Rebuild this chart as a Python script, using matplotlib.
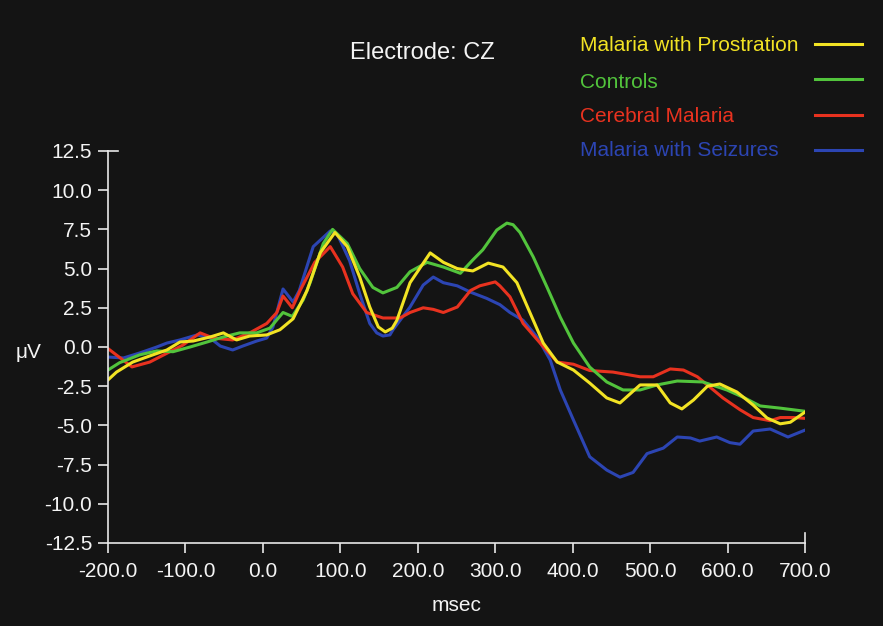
import matplotlib
matplotlib.use("Agg")
import matplotlib.pyplot as plt
from matplotlib.lines import Line2D

plt.rcParams['font.family'] = ['Liberation Sans', 'DejaVu Sans']

# Series (msec, microvolts)
labels = ["Malaria with Prostration", "Controls", "Cerebral Malaria", "Malaria with Seizures"]
colors = ["#f2e324", "#52c43c", "#e8321f", "#2c45b3"]

prost_x = [-200, -189, -168, -146, -124, -107, -90, -68, -51, -34, -17, 5, 22, 39, 57, 74, 93, 109,
           125, 138, 149, 158, 167, 173, 190, 216, 233, 251, 271, 291, 310, 328, 345, 362, 380, 401,
           422, 444, 461, 487, 509, 526, 541, 556, 574, 590, 612, 633, 651, 668, 681, 700]
prost_y = [-2.1, -1.6, -0.96, -0.57, -0.19, 0.32, 0.38, 0.64, 0.9, 0.45, 0.7, 0.77, 1.1, 1.8, 3.6,
           6.0, 7.3, 6.4, 4.46, 2.55, 1.28, 0.96, 1.2, 1.7, 4.1, 6.0, 5.4, 5.0, 4.85, 5.35, 5.1, 4.1,
           2.17, 0.25, -0.96, -1.47, -2.3, -3.25, -3.57, -2.42, -2.42, -3.57, -3.95, -3.38, -2.5,
           -2.36, -2.87, -3.7, -4.53, -4.9, -4.8, -4.15]

ctrl_x = [-200, -185, -159, -137, -116, -94, -72, -51, -30, -8, 9, 26, 38, 52, 61, 78, 90, 109, 125,
          142, 155, 173, 190, 212, 233, 255, 271, 284, 302, 315, 323, 332, 349, 367, 384, 401, 422,
          444, 465, 487, 509, 535, 568, 599, 620, 642, 668, 700]
ctrl_y = [-1.47, -1.0, -0.5, -0.25, -0.3, 0.0, 0.32, 0.64, 0.9, 0.9, 1.2, 2.2, 1.95, 3.0, 4.1, 6.6,
          7.5, 6.6, 5.0, 3.8, 3.45, 3.8, 4.8, 5.4, 5.1, 4.7, 5.55, 6.2, 7.46, 7.9, 7.8, 7.3, 5.75,
          3.8, 1.9, 0.25, -1.28, -2.23, -2.74, -2.74, -2.42, -2.17, -2.23, -2.74, -3.2, -3.76,
          -3.9, -4.1]

cereb_x = [-200, -169, -146, -124, -103, -81, -64, -39, -17, 5, 18, 26, 38, 48, 67, 87, 103, 116,
           134, 155, 177, 190, 207, 220, 233, 251, 268, 280, 300, 306, 319, 336, 358, 380, 401, 422,
           452, 487, 504, 526, 543, 561, 577, 594, 616, 633, 655, 668, 685, 700]
cereb_y = [-0.1, -1.27, -0.96, -0.4, 0.13, 0.9, 0.57, 0.45, 0.9, 1.5, 2.2, 3.25, 2.5, 3.6, 5.4, 6.4,
           5.1, 3.4, 2.2, 1.85, 1.85, 2.2, 2.5, 2.4, 2.2, 2.55, 3.6, 3.9, 4.15, 3.9, 3.2, 1.5, 0.25,
           -0.96, -1.1, -1.5, -1.6, -1.9, -1.9, -1.4, -1.47, -1.9, -2.55, -3.25, -4.0, -4.5, -4.7,
           -4.5, -4.5, -4.55]

seiz_x = [-200, -180, -159, -137, -124, -107, -85, -68, -55, -39, -26, -8, 5, 13, 26, 39, 47, 65, 87,
          96, 112, 125, 138, 147, 155, 164, 168, 190, 207, 220, 233, 251, 268, 289, 306, 319, 336,
          354, 371, 384, 401, 422, 444, 461, 478, 496, 517, 535, 552, 564, 586, 603, 616, 633, 655,
          678, 700]
seiz_y = [-0.64, -0.7, -0.38, 0.0, 0.25, 0.45, 0.77, 0.57, 0.06, -0.19, 0.06, 0.38, 0.57, 1.28, 3.7,
          2.87, 3.6, 6.4, 7.4, 7.2, 5.5, 3.4, 1.5, 0.9, 0.7, 0.77, 1.1, 2.55, 3.95, 4.46, 4.1, 3.9,
          3.5, 3.1, 2.7, 2.2, 1.7, 0.64, -0.83, -2.74, -4.66, -7.0, -7.85, -8.3, -8.0, -6.8, -6.45,
          -5.74, -5.8, -6.0, -5.74, -6.1, -6.2, -5.36, -5.23, -5.74, -5.3]

x_ticks = [-200, -100, 0, 100, 200, 300, 400, 500, 600, 700]
y_ticks = [-12.5, -10, -7.5, -5, -2.5, 0, 2.5, 5, 7.5, 10, 12.5]

bg = "#141414"
fg = "#e8e8e8"
txt = "#f4f4f4"

fig = plt.figure(figsize=(8.83, 6.26), dpi=100, facecolor=bg)
ax = fig.add_axes([0.1223, 0.1326, 0.7894, 0.6262], facecolor=bg)

series = [(prost_x, prost_y), (ctrl_x, ctrl_y), (cereb_x, cereb_y), (seiz_x, seiz_y)]
# draw in reverse so yellow sits on top
for (xs, ys), c in list(zip(series, colors))[::-1]:
    ax.plot(xs, ys, color=c, lw=2.2, solid_joinstyle='round')

ax.set_xlim(-200, 700)
ax.set_ylim(-12.5, 12.5)
ax.set_xticks(x_ticks)
ax.set_yticks(y_ticks)
ax.set_xticklabels(["%.1f" % v for v in x_ticks])
ax.set_yticklabels(["%.1f" % v for v in y_ticks])

for s in ["top", "right"]:
    ax.spines[s].set_visible(False)
for s in ["left", "bottom"]:
    ax.spines[s].set_color(fg)
    ax.spines[s].set_linewidth(1.2)

ax.tick_params(colors=fg, labelcolor=txt, labelsize=15, length=7.5, width=1.2, direction="out")
ax.tick_params(axis="x", pad=6)
ax.tick_params(axis="y", pad=4)

# end caps: top y tick and last x tick extend inward too
ax.plot([0, 0.0145], [1, 1], transform=ax.transAxes, color=fg, lw=1.2, clip_on=False)
ax.plot([1, 1], [0, 0.026], transform=ax.transAxes, color=fg, lw=1.2, clip_on=False)

ax.set_xlabel("msec", color=txt, fontsize=15, labelpad=11)
fig.text(0.032, 0.437, "\u03bcV", color=txt, fontsize=15, ha="center", va="center")

fig.text(0.478, 0.905, "Electrode: CZ", color=txt, fontsize=17, ha="center", va="baseline")

# legend, text left aligned with sample lines on the right
text_y = [0.9185, 0.8594, 0.8051, 0.7508]
line_y = [0.9297, 0.8738, 0.8163, 0.7604]
for lab, c, ty, ly in zip(labels, colors, text_y, line_y):
    fig.text(0.657, ty, lab, color=c, fontsize=15, ha="left", va="baseline")
    fig.add_artist(Line2D([0.923, 0.976], [ly, ly], transform=fig.transFigure, color=c, lw=2.2))

fig.savefig("out.png", dpi=100, facecolor=bg)
